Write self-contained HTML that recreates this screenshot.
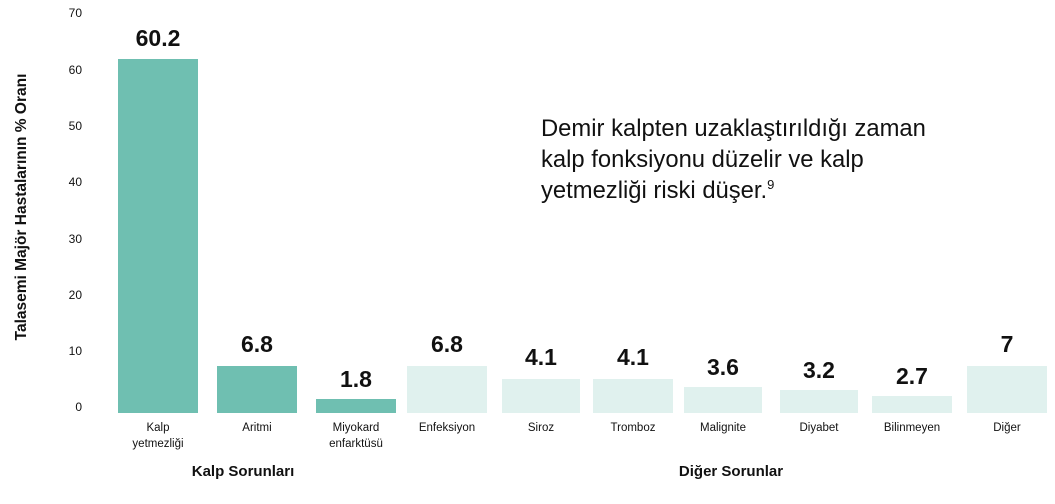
<!DOCTYPE html>
<html><head><meta charset="utf-8"><style>
body{margin:0;width:1055px;height:504px;background:#fff;position:relative;overflow:hidden;font-family:"Liberation Sans",sans-serif;color:#111}
.t{position:absolute;font-size:12px;width:30px;text-align:right;left:52px}
.b{position:absolute;bottom:91px}
.v{position:absolute;font-weight:bold;font-size:23px;text-align:center;width:120px}
.c{position:absolute;font-size:11.5px;text-align:center;width:120px;top:420px;line-height:16px}
</style></head><body>
<div class="t" style="top:6px">70</div>
<div class="t" style="top:63px">60</div>
<div class="t" style="top:119px">50</div>
<div class="t" style="top:175px">40</div>
<div class="t" style="top:232px">30</div>
<div class="t" style="top:288px">20</div>
<div class="t" style="top:344px">10</div>
<div class="t" style="top:400px">0</div>
<div style="position:absolute;left:-128px;top:198px;width:300px;text-align:center;transform:rotate(-90deg);font-weight:bold;font-size:15.5px;white-space:nowrap">Talasemi Majör Hastalarının % Oranı</div>

<div class="b" style="left:118px;width:80px;top:59px;height:354px;background:#6fbfb1"></div>
<div class="b" style="left:217px;width:80px;top:366px;height:47px;background:#6fbfb1"></div>
<div class="b" style="left:316px;width:80px;top:399px;height:14px;background:#6fbfb1"></div>
<div class="b" style="left:407px;width:80px;top:366px;height:47px;background:#e0f1ee"></div>
<div class="b" style="left:502px;width:78px;top:379px;height:34px;background:#e0f1ee"></div>
<div class="b" style="left:593px;width:80px;top:379px;height:34px;background:#e0f1ee"></div>
<div class="b" style="left:684px;width:78px;top:387px;height:26px;background:#e0f1ee"></div>
<div class="b" style="left:780px;width:78px;top:390px;height:23px;background:#e0f1ee"></div>
<div class="b" style="left:872px;width:80px;top:396px;height:17px;background:#e0f1ee"></div>
<div class="b" style="left:967px;width:80px;top:366px;height:47px;background:#e0f1ee"></div>

<div class="v" style="left:98px;top:25px">60.2</div>
<div class="v" style="left:197px;top:331px">6.8</div>
<div class="v" style="left:296px;top:366px">1.8</div>
<div class="v" style="left:387px;top:331px">6.8</div>
<div class="v" style="left:481px;top:344px">4.1</div>
<div class="v" style="left:573px;top:344px">4.1</div>
<div class="v" style="left:663px;top:354px">3.6</div>
<div class="v" style="left:759px;top:357px">3.2</div>
<div class="v" style="left:852px;top:363px">2.7</div>
<div class="v" style="left:947px;top:331px">7</div>

<div class="c" style="left:98px">Kalp<br>yetmezliği</div>
<div class="c" style="left:197px">Aritmi</div>
<div class="c" style="left:296px">Miyokard<br>enfarktüsü</div>
<div class="c" style="left:387px">Enfeksiyon</div>
<div class="c" style="left:481px">Siroz</div>
<div class="c" style="left:573px">Tromboz</div>
<div class="c" style="left:663px">Malignite</div>
<div class="c" style="left:759px">Diyabet</div>
<div class="c" style="left:852px">Bilinmeyen</div>
<div class="c" style="left:947px">Diğer</div>

<div style="position:absolute;left:143px;width:200px;text-align:center;top:463px;font-weight:bold;font-size:15px">Kalp Sorunları</div>
<div style="position:absolute;left:631px;width:200px;text-align:center;top:463px;font-weight:bold;font-size:15px">Diğer Sorunlar</div>

<div style="position:absolute;left:541px;top:113px;font-size:23.8px;line-height:31px;color:#111;white-space:nowrap">Demir kalpten uzaklaştırıldığı zaman<br>kalp fonksiyonu düzelir ve kalp<br>yetmezliği riski düşer.<span style="font-size:13px;position:relative;top:-9px;line-height:0">9</span></div>
</body></html>
